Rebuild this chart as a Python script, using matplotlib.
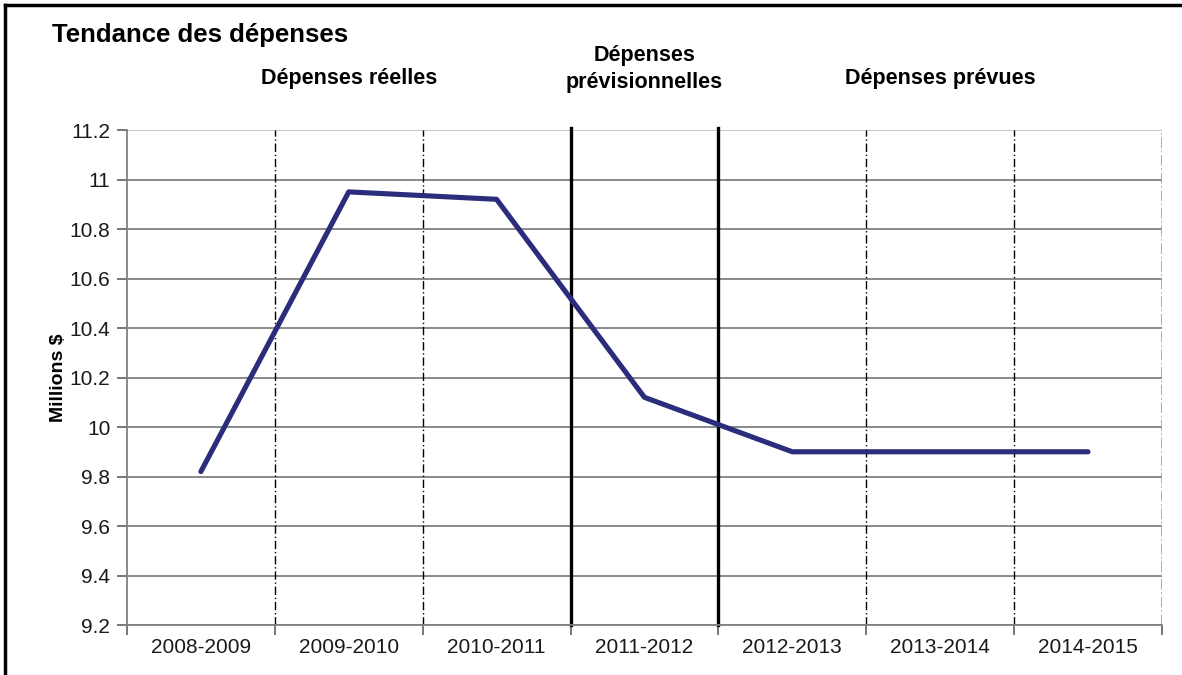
import matplotlib.pyplot as plt
from matplotlib.lines import Line2D

# data
years = ["2008-2009", "2009-2010", "2010-2011", "2011-2012",
         "2012-2013", "2013-2014", "2014-2015"]
spending = [9.82, 10.95, 10.92, 10.12, 9.90, 9.90, 9.90]
yticks = [9.2, 9.4, 9.6, 9.8, 10, 10.2, 10.4, 10.6, 10.8, 11, 11.2]
ylabels = ["9.2", "9.4", "9.6", "9.8", "10", "10.2", "10.4",
           "10.6", "10.8", "11", "11.2"]
sections = ["Dépenses réelles", "Dépenses\nprévisionnelles", "Dépenses prévues"]
section_pos = [1.0, 3.0, 5.0]

plt.rcParams['font.family'] = ['Liberation Sans', 'DejaVu Sans']

fig = plt.figure(figsize=(11.82, 6.75), dpi=100)
ax = fig.add_axes([0.1074, 0.074, 0.8756, 0.7334])

x = list(range(len(years)))
ax.set_xlim(-0.5, len(years) - 0.5)
ax.set_ylim(9.2, 11.2)

# horizontal grid
for v in yticks:
    col = '#c0c0c0' if v == 11.2 else '#808080'
    ax.axhline(v, color=col, lw=1.3, zorder=1)

# category separators
for k in range(len(years)):
    b = k + 0.5
    if k in (2, 3):
        ax.axvline(b, ymin=0, ymax=1.005, color='black', lw=2.4, zorder=2, clip_on=False)
    elif k == len(years) - 1:
        ax.axvline(b, color='#a0a0a0', lw=1.2, ls='-.', zorder=2)
    else:
        ax.axvline(b, color='black', lw=1.0, ls=(0, (6, 2, 1, 2)), zorder=2)

ax.plot(x, spending, color='#2a2d7c', lw=3.7, solid_capstyle='round', zorder=3)

ax.set_yticks(yticks)
ax.set_yticklabels(ylabels)
ax.set_xticks([k + 0.5 for k in range(-1, len(years))], minor=False)
ax.set_xticklabels([])
ax.set_xticks(x, minor=True)
ax.set_xticklabels(years, minor=True)
ax.tick_params(axis='x', which='major', length=7, color='#606060', width=1.2)
ax.tick_params(axis='x', which='minor', length=0, pad=9, labelsize=15, labelcolor='#1a1a1a')
ax.tick_params(axis='y', length=7, color='#606060', width=1.2, pad=5,
               labelsize=15, labelcolor='#1a1a1a')

for s in ['top', 'right']:
    ax.spines[s].set_visible(False)
ax.spines['left'].set_color('#808080')
ax.spines['left'].set_linewidth(1.3)
ax.spines['bottom'].set_color('#808080')
ax.spines['bottom'].set_linewidth(1.3)

ax.set_ylabel('Millions $', fontsize=14, fontweight='bold', labelpad=2)

# titles
fig.text(0.044, 0.948, 'Tendance des dépenses', fontsize=18.5, fontweight='bold',
         ha='left', va='center')
for lbl, p in zip(sections, section_pos):
    xf = ax.transData.transform((p, 0))[0] / fig.bbox.width
    yf = 0.898 if '\n' in lbl else 0.884
    fig.text(xf, yf, lbl, fontsize=15.5, fontweight='bold', ha='center',
             va='center', linespacing=1.4)

# frame
fig.add_artist(Line2D([0.0045, 0.0045], [0, 0.993], color='black', lw=2.5,
                      transform=fig.transFigure))
fig.add_artist(Line2D([0.0045, 1], [0.993, 0.993], color='black', lw=2.5,
                      transform=fig.transFigure))

fig.savefig('out.png', dpi=100)
